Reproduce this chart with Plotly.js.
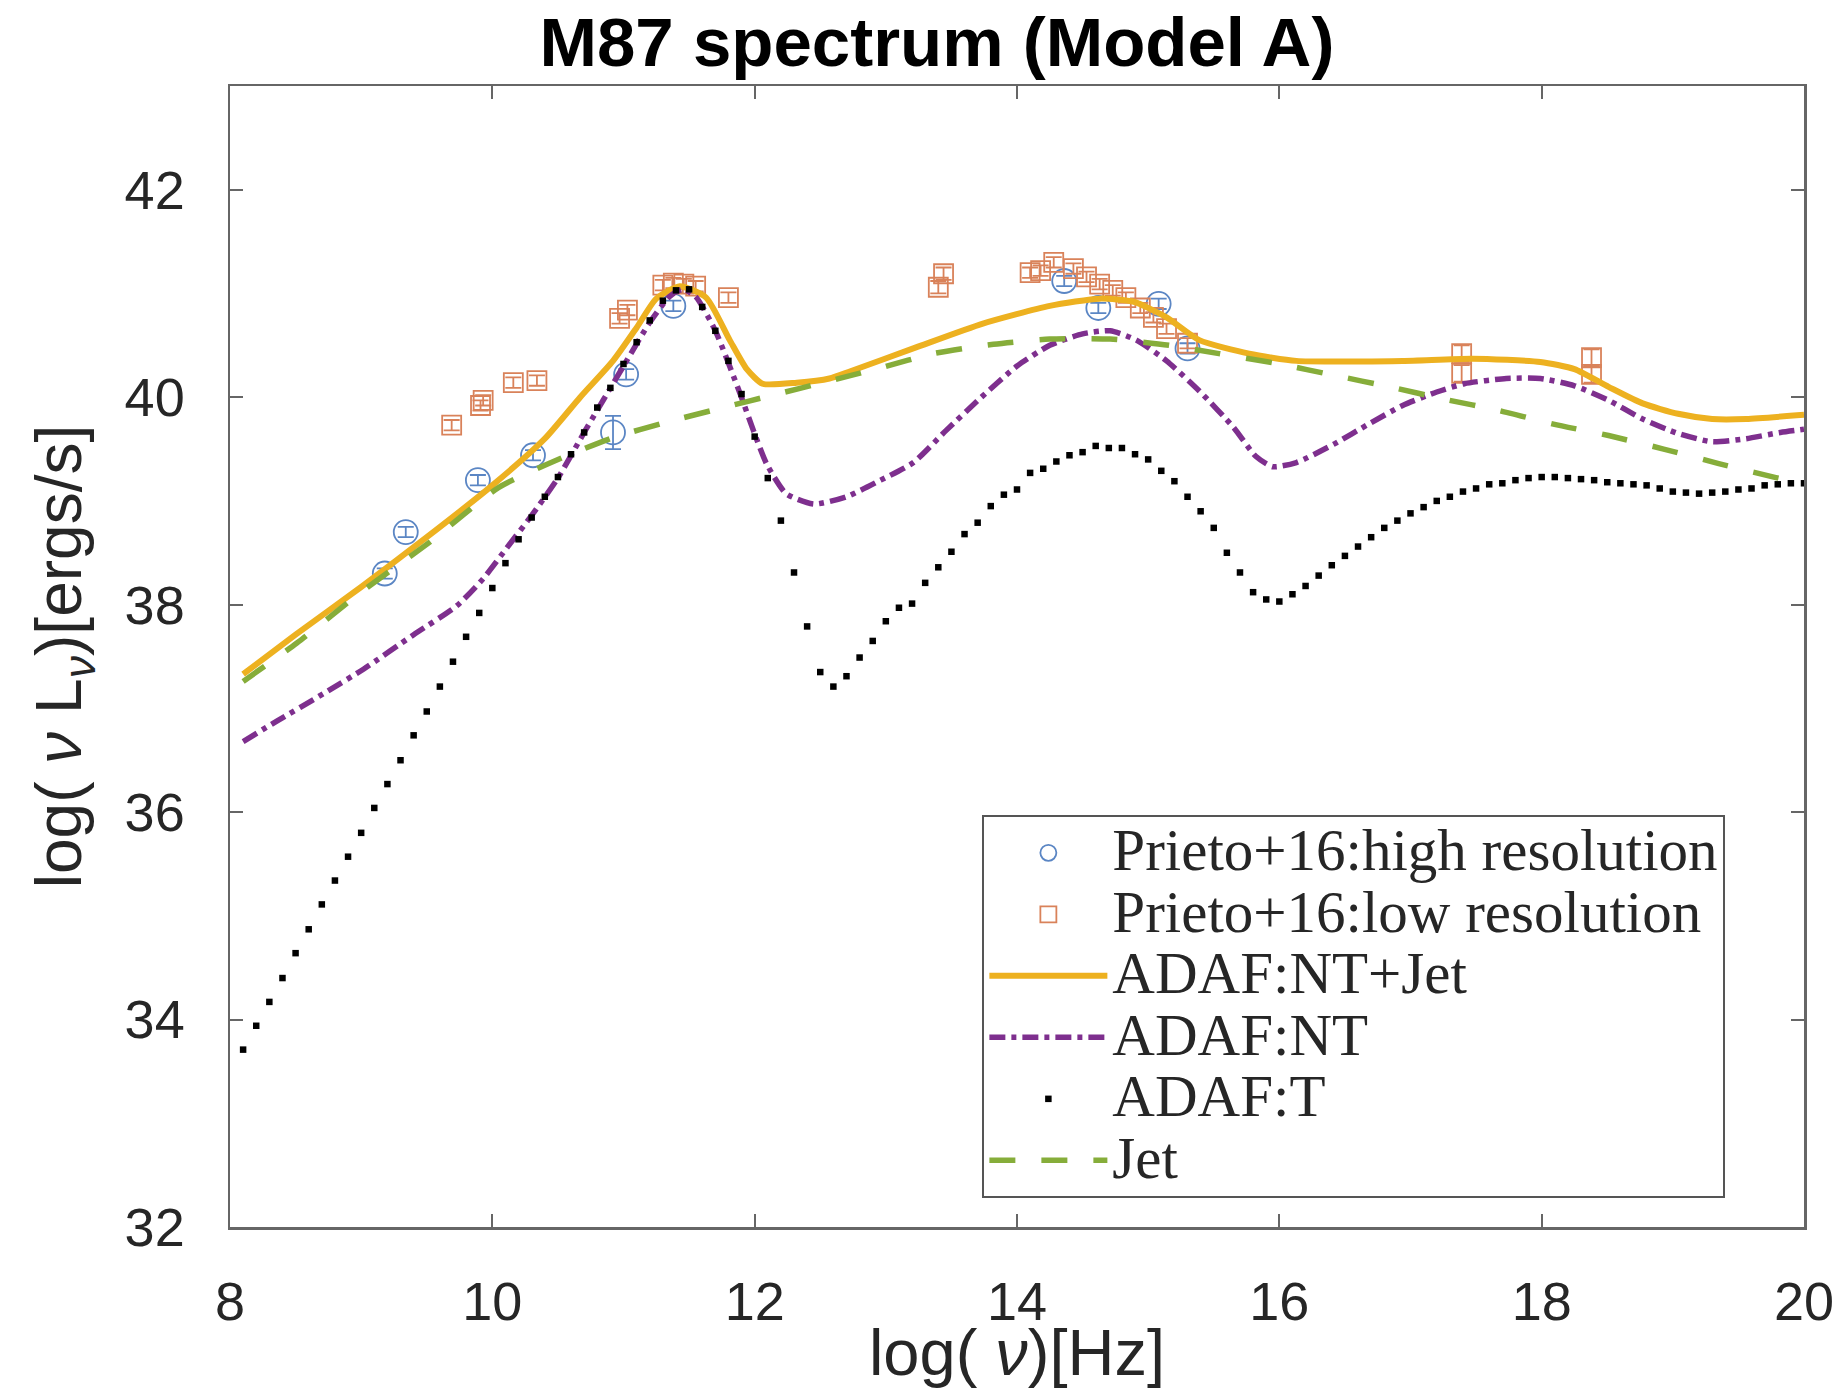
<!DOCTYPE html>
<html>
<head>
<meta charset="utf-8">
<script src="https://cdn.plot.ly/plotly-3.0.1.min.js"></script>
<style>html,body{margin:0;padding:0;background:#fff;}#chart{width:1839px;height:1389px;}</style>
</head>
<body>
<div id="chart"></div>
<script>
// ---- data ----
const hiX = [9.18, 9.34, 9.89, 10.31, 10.92, 11.02, 11.38, 14.36, 14.62, 15.08, 15.30];
const hiY = [38.30, 38.70, 39.20, 39.44, 39.66, 40.22, 40.88, 41.12, 40.86, 40.90, 40.47];
const hiErr = [0.05, 0.05, 0.05, 0.05, 0.16, 0.05, 0.05, 0.05, 0.05, 0.05, 0.05];

const loX = [9.69, 9.91, 9.93, 10.16, 10.34, 10.97, 11.03, 11.30, 11.38, 11.46, 11.55, 11.80,
             13.40, 13.44, 14.10, 14.18, 14.28, 14.43, 14.53, 14.63, 14.73, 14.83, 14.94,
             15.04, 15.14, 15.30, 17.39, 17.39, 18.38, 18.38];
const loY = [39.73, 39.92, 39.97, 40.14, 40.16, 40.76, 40.84, 41.08, 41.10, 41.09, 41.07, 40.96,
             41.06, 41.19, 41.20, 41.22, 41.30, 41.24, 41.16, 41.09, 41.03, 40.96, 40.86,
             40.77, 40.66, 40.52, 40.42, 40.23, 40.38, 40.22];
const loErr = [0.05, 0.05, 0.05, 0.05, 0.05, 0.05, 0.05, 0.05, 0.05, 0.05, 0.05, 0.05,
               0.06, 0.06, 0.05, 0.05, 0.05, 0.05, 0.05, 0.05, 0.05, 0.05, 0.05,
               0.05, 0.05, 0.05, 0.08, 0.08, 0.08, 0.08];

const ntjX = [8.10, 8.50, 9.00, 9.50, 10.00, 10.40, 10.67, 10.92, 11.10, 11.25, 11.43, 11.63,
              11.81, 11.94, 12.06, 12.32, 12.57, 12.73, 13.23, 13.74, 14.25, 14.63, 14.89,
              15.14, 15.39, 15.77, 16.13, 16.94, 17.47, 17.99, 18.25, 18.51, 18.77, 19.04,
              19.30, 19.56, 20.00];
const ntjY = [37.33, 37.71, 38.17, 38.65, 39.15, 39.60, 40.00, 40.35, 40.67, 40.95, 41.07, 40.96,
              40.55, 40.27, 40.13, 40.14, 40.18, 40.25, 40.48, 40.71, 40.88, 40.95, 40.92,
              40.77, 40.55, 40.42, 40.35, 40.35, 40.37, 40.34, 40.27, 40.10, 39.94, 39.84,
              39.79, 39.79, 39.83];

const ntX = [8.10, 8.36, 8.71, 9.02, 9.40, 9.73, 9.93, 10.13, 10.30, 10.50, 10.70, 11.00,
             11.20, 11.35, 11.45, 11.55, 11.70, 11.89, 11.99, 12.09, 12.24, 12.45, 12.70,
             12.96, 13.21, 13.46, 13.72, 14.00, 14.25, 14.50, 14.71, 14.91, 15.14, 15.39,
             15.65, 15.82, 15.95, 16.13, 16.42, 16.68, 16.94, 17.20, 17.41, 17.73, 17.99,
             18.25, 18.51, 18.77, 19.04, 19.30, 19.56, 19.82, 20.00];
const ntY = [36.68, 36.88, 37.14, 37.38, 37.71, 37.99, 38.25, 38.58, 38.86, 39.22, 39.66, 40.30,
             40.72, 40.97, 41.04, 40.97, 40.64, 40.03, 39.68, 39.36, 39.07, 38.97, 39.04,
             39.20, 39.37, 39.68, 39.99, 40.30, 40.50, 40.61, 40.64, 40.55, 40.35, 40.06,
             39.71, 39.43, 39.33, 39.37, 39.55, 39.74, 39.92, 40.05, 40.13, 40.18, 40.18,
             40.11, 39.97, 39.79, 39.65, 39.57, 39.60, 39.66, 39.69];

const tX = [8.1, 8.2, 8.3, 8.4, 8.5, 8.6, 8.7, 8.8, 8.9, 9.0,
            9.1, 9.2, 9.3, 9.4, 9.5, 9.6, 9.7, 9.8, 9.9, 10.0,
            10.1, 10.2, 10.3, 10.4, 10.5, 10.6, 10.7, 10.8, 10.9, 11.0,
            11.1, 11.2, 11.3, 11.4, 11.5, 11.6, 11.7, 11.8, 11.9, 12.0,
            12.1, 12.2, 12.3, 12.4, 12.5, 12.6, 12.7, 12.8, 12.9, 13.0,
            13.1, 13.2, 13.3, 13.4, 13.5, 13.6, 13.7, 13.8, 13.9, 14.0,
            14.1, 14.2, 14.3, 14.4, 14.5, 14.6, 14.7, 14.8, 14.9, 15.0,
            15.1, 15.2, 15.3, 15.4, 15.5, 15.6, 15.7, 15.8, 15.9, 16.0,
            16.1, 16.2, 16.3, 16.4, 16.5, 16.6, 16.7, 16.8, 16.9, 17.0,
            17.1, 17.2, 17.3, 17.4, 17.5, 17.6, 17.7, 17.8, 17.9, 18.0,
            18.1, 18.2, 18.3, 18.4, 18.5, 18.6, 18.7, 18.8, 18.9, 19.0,
            19.1, 19.2, 19.3, 19.4, 19.5, 19.6, 19.7, 19.8, 19.9, 20.0];
const tY = [33.71, 33.94, 34.17, 34.40, 34.64, 34.87, 35.11, 35.34, 35.57, 35.80,
            36.04, 36.27, 36.50, 36.74, 36.97, 37.21, 37.45, 37.69, 37.92, 38.16,
            38.40, 38.63, 38.84, 39.04, 39.23, 39.45, 39.66, 39.90, 40.09, 40.32,
            40.53, 40.74, 40.93, 41.03, 41.04, 40.87, 40.64, 40.35, 40.03, 39.62,
            39.22, 38.81, 38.31, 37.79, 37.35, 37.21, 37.31, 37.49, 37.65, 37.84,
            37.97, 38.01, 38.21, 38.36, 38.51, 38.68, 38.79, 38.95, 39.06, 39.11,
            39.27, 39.31, 39.38, 39.44, 39.47, 39.53, 39.51, 39.51, 39.45, 39.40,
            39.29, 39.19, 39.04, 38.90, 38.74, 38.50, 38.31, 38.12, 38.05, 38.03,
            38.10, 38.18, 38.28, 38.38, 38.47, 38.56, 38.65, 38.74, 38.81, 38.88,
            38.94, 39.00, 39.04, 39.09, 39.12, 39.16, 39.17, 39.20, 39.22, 39.23,
            39.23, 39.22, 39.21, 39.20, 39.18, 39.17, 39.16, 39.15, 39.12, 39.09,
            39.08, 39.07, 39.08, 39.09, 39.11, 39.12, 39.15, 39.16, 39.17, 39.17];

const jetX = [8.10, 8.51, 9.02, 9.52, 10.05, 10.54, 10.92, 11.33, 11.73, 12.17, 12.52, 12.98,
              13.36, 13.82, 14.25, 14.71, 15.16, 15.54, 16.00, 16.42, 16.84, 17.26, 17.68,
              18.09, 18.51, 18.93, 19.35, 19.77, 20.00];
const jetY = [37.26, 37.63, 38.14, 38.60, 39.13, 39.42, 39.61, 39.76, 39.89, 40.03, 40.14, 40.29,
              40.42, 40.51, 40.56, 40.56, 40.50, 40.42, 40.32, 40.21, 40.10, 39.98, 39.87,
              39.74, 39.63, 39.50, 39.36, 39.23, 39.17];

const names = ['Prieto+16:high resolution', 'Prieto+16:low resolution', 'ADAF:NT+Jet',
               'ADAF:NT', 'ADAF:T', 'Jet'];
const xTicks = [8, 10, 12, 14, 16, 18, 20];
const yTicks = [32, 34, 36, 38, 40, 42];

// ---- styling ----
const C = {blue: '#5b86c4', orange: '#d9825a', gold: '#EDB120', purple: '#7E2F8E',
           black: '#000000', green: '#86ad3a'};
const lbl = s => '<span style="font-size:59px">' + s + '</span>';

const traces = [
  {x: hiX, y: hiY, type: 'scatter', mode: 'markers', name: lbl(names[0]),
   marker: {symbol: 'circle-open', size: 24, color: C.blue, line: {width: 1.8, color: C.blue}},
   error_y: {type: 'data', array: hiErr, visible: true, color: C.blue, thickness: 1.8, width: 8}},
  {x: loX, y: loY, type: 'scatter', mode: 'markers', name: lbl(names[1]),
   marker: {symbol: 'square-open', size: 19, color: C.orange, line: {width: 1.8, color: C.orange}},
   error_y: {type: 'data', array: loErr, visible: true, color: C.orange, thickness: 1.8, width: 8}},
  {x: ntjX, y: ntjY, type: 'scatter', mode: 'lines', name: lbl(names[2]),
   line: {color: C.gold, width: 6, shape: 'spline', smoothing: 0.6}},
  {x: ntX, y: ntY, type: 'scatter', mode: 'lines', name: lbl(names[3]),
   line: {color: C.purple, width: 5.5, dash: '16px,6px,5px,6px', shape: 'spline', smoothing: 0.6}},
  {x: tX, y: tY, type: 'scatter', mode: 'markers', name: lbl(names[4]),
   marker: {symbol: 'square', size: 6.5, color: C.black}},
  {x: jetX, y: jetY, type: 'scatter', mode: 'lines', name: lbl(names[5]),
   line: {color: C.green, width: 5.5, dash: '26px,26px', shape: 'spline', smoothing: 0.6}}
];

const axisCommon = {
  showline: true, mirror: 'ticks', linecolor: '#666', linewidth: 2.5,
  ticks: 'inside', ticklen: 13, tickwidth: 2, tickcolor: '#666',
  showgrid: false, zeroline: false,
  tickfont: {family: 'Liberation Sans, Arial, sans-serif', size: 54, color: '#262626'}
};

const layout = {
  width: 1839, height: 1389,
  paper_bgcolor: '#ffffff', plot_bgcolor: '#ffffff',
  margin: {l: 230, r: 35, t: 86, b: 162},
  showlegend: true,
  title: {text: '<b>M87 spectrum (Model A)</b>',
          font: {family: 'Liberation Sans, Arial, sans-serif', size: 69, color: '#000'},
          xref: 'container', x: 0.5095, xanchor: 'center',
          yref: 'container', y: 0.97, yanchor: 'middle'},
  xaxis: Object.assign({}, axisCommon, {
    range: [8, 20], tickvals: xTicks, ticktext: xTicks.map(String),
    ticklabelstandoff: 26,
    title: {text: 'log( <i>ν</i>)[Hz]\u00a0\u00a0', standoff: 26,
            font: {family: 'Liberation Sans, Arial, sans-serif', size: 65, color: '#262626'}}
  }),
  yaxis: Object.assign({}, axisCommon, {
    range: [32, 43], tickvals: yTicks, ticktext: yTicks.map(String),
    ticklabelstandoff: 32,
    title: {text: 'log( <i>ν</i> L<sub><i>ν</i></sub>)[ergs/s]\u00a0\u00a0', standoff: 22,
            font: {family: 'Liberation Sans, Arial, sans-serif', size: 64, color: '#262626'}}
  }),
  legend: {
    x: 0.478, y: 0.361, xanchor: 'left', yanchor: 'top',
    bgcolor: '#ffffff', bordercolor: '#555', borderwidth: 2,
    font: {family: 'Liberation Serif, Times New Roman, serif', size: 45, color: '#262626'},
    itemwidth: 118, tracegroupgap: 0
  }
};

Plotly.newPlot('chart', traces, layout, {displayModeBar: false, staticPlot: true});
</script>
</body>
</html>
